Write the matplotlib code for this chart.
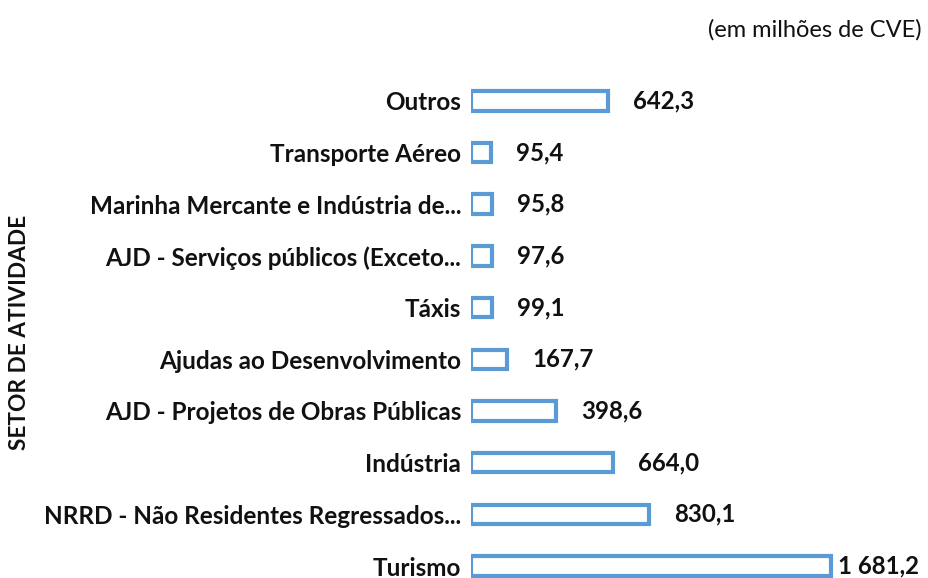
import matplotlib
matplotlib.use("Agg")
import matplotlib.pyplot as plt

categories = ["Turismo", "NRRD - Não Residentes Regressados...", "Indústria",
              "AJD - Projetos de Obras Públicas", "Ajudas ao Desenvolvimento", "Táxis",
              "AJD - Serviços públicos (Exceto...", "Marinha Mercante e Indústria de...",
              "Transporte Aéreo", "Outros"]
values = [1681.2, 830.1, 664.0, 398.6, 167.7, 99.1, 97.6, 95.8, 95.4, 642.3]
value_labels = ["1 681,2", "830,1", "664,0", "398,6", "167,7", "99,1", "97,6", "95,8", "95,4", "642,3"]

plt.rcParams['font.family'] = ['Lato', 'DejaVu Sans']

W, H = 929, 578
fig = plt.figure(figsize=(W / 100, H / 100), dpi=100)
ax = fig.add_axes([471 / W, 0, 458 / W, 1])
ypos = list(range(len(categories)))
ax.barh(ypos, values, height=0.38, color="white", edgecolor="#5B9BD5", linewidth=3)
ax.set_xlim(0, 2140)
ax.set_ylim(-0.232, 10.954)
for s in ax.spines.values():
    s.set_visible(False)
ax.set_xticks([])
ax.set_yticks(ypos)
ax.set_yticklabels(categories, fontsize=17.5, fontweight="bold", color="#111111")
ax.tick_params(axis="y", length=0, pad=7)
for i, (v, lab) in enumerate(zip(values, value_labels)):
    off = 7 if i == 0 else 25
    ax.annotate(lab, (v, i), xytext=(off, 0), textcoords="offset pixels",
                va="center", ha="left", fontsize=17.3, fontweight="bold", color="#111111",
                annotation_clip=False)
fig.text(20 / W, 1 - 332 / H, "SETOR DE ATIVIDADE", rotation=90, ha="center", va="center",
         fontsize=16.3, fontweight="bold", color="#111111")
fig.text(922 / W, 1 - 30 / H, "(em milhões de CVE)", ha="right", va="center",
         fontsize=17, color="#111111")
fig.savefig("out.png", dpi=100)
